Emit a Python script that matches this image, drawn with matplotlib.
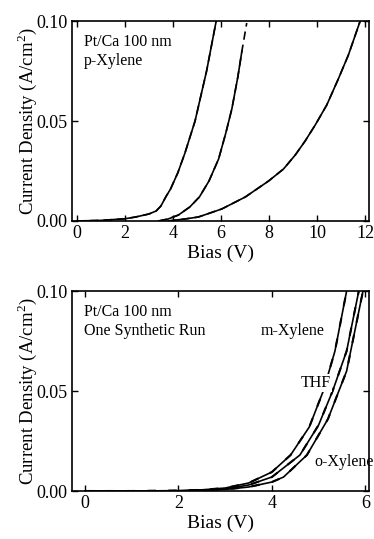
import matplotlib
matplotlib.use("Agg")
import matplotlib.pyplot as plt

plt.rcParams.update({"font.family": ["Liberation Serif", "DejaVu Serif"],
                     "mathtext.fontset": "custom",
                     "mathtext.rm": "Liberation Serif"})

# ---- top panel: Pt/Ca 100 nm, p-Xylene (three devices, solid + dashed scans)
TOP_A_X = [0, 1.0, 2.0, 2.45, 3.0, 3.3, 3.5, 3.7, 3.9, 4.2, 4.5, 4.92, 5.4, 5.8]
TOP_A_Y = [0, 0.0003, 0.0011, 0.002, 0.0035, 0.005, 0.0075, 0.012, 0.016, 0.024,
           0.034, 0.05, 0.075, 0.1]
TOP_B_X = [3.4, 3.8, 4.23, 4.7, 5.1, 5.5, 5.9, 6.2, 6.45, 6.7, 6.87]
TOP_B_Y = [0.0, 0.001, 0.003, 0.007, 0.012, 0.02, 0.031, 0.044, 0.056, 0.072, 0.085]
TOP_B_DASH_X = [3.4, 3.8, 4.23, 4.7, 5.1, 5.5, 5.9, 6.2, 6.45, 6.7, 6.87, 7.07]
TOP_B_DASH_Y = [0.0, 0.001, 0.003, 0.007, 0.012, 0.02, 0.031, 0.044, 0.056, 0.072,
                0.085, 0.099]
TOP_C_X = [3.8, 4.5, 5.06, 6.03, 7.01, 7.98, 8.6, 9.09, 9.5, 9.92, 10.4, 10.88,
           11.3, 11.79]
TOP_C_Y = [0.0, 0.001, 0.002, 0.006, 0.012, 0.020, 0.026, 0.033, 0.040, 0.048,
           0.058, 0.071, 0.083, 0.1]

# ---- bottom panel: Pt/Ca 100 nm, one synthetic run, three solvents
M_X = [0, 1.0, 2.0, 2.5, 3.0, 3.5, 4.0, 4.4, 4.8, 5.1, 5.35, 5.6]
M_Y = [0, 0, 0.0002, 0.0006, 0.0015, 0.004, 0.0095, 0.018, 0.032, 0.05, 0.07, 0.1]
THF_X = [0, 1.0, 2.0, 2.5, 3.0, 3.5, 4.0, 4.6, 5.0, 5.3, 5.6, 5.86]
THF_Y = [0, 0, 0.0001, 0.0004, 0.001, 0.003, 0.007, 0.018, 0.033, 0.05, 0.07, 0.1]
O_X = [0, 1.0, 2.0, 2.5, 3.0, 3.5, 4.0, 4.25, 4.75, 5.2, 5.6, 5.95]
O_Y = [0, 0, 0, 0.0003, 0.0008, 0.002, 0.0045, 0.007, 0.018, 0.036, 0.06, 0.1]
LABELS = ["m-Xylene", "THF", "o-Xylene"]
LABEL_X = [4.45, 4.95, 5.55]
LABEL_Y = [0.080, 0.054, 0.0143]

fig = plt.figure(figsize=(3.74, 5.39), dpi=100)
ax1 = fig.add_axes([0.1925, 0.590, 0.793, 0.371])
ax2 = fig.add_axes([0.1925, 0.089, 0.793, 0.371])

lw = 1.2
for x, y in [(TOP_A_X, TOP_A_Y), (TOP_B_X, TOP_B_Y), (TOP_C_X, TOP_C_Y)]:
    ax1.plot(x, y, color="black", lw=lw)
for x, y in [(TOP_A_X, TOP_A_Y), (TOP_B_DASH_X, TOP_B_DASH_Y), (TOP_C_X, TOP_C_Y)]:
    ax1.plot(x, y, color="black", lw=lw, ls=(0, (5, 3)))

for x, y in [(M_X, M_Y), (THF_X, THF_Y), (O_X, O_Y)]:
    ax2.plot(x, y, color="black", lw=lw)
    ax2.plot(x, y, color="black", lw=lw + 0.3, ls=(0, (4, 6)))
for lab, lx, ly in zip(LABELS, LABEL_X, LABEL_Y):
    ax2.text(lx, ly, lab, fontsize=11.5, ha="center", va="center",
             bbox=dict(fc="white", ec="none", pad=0.5) if lab == "THF" else None)

ax1.set_xlim(-0.2, 12.14)
ax1.set_xticks([0, 2, 4, 6, 8, 10, 12])
ax2.set_xlim(-0.28, 6.07)
ax2.set_xticks([0, 2, 4, 6])

ax1.text(0.04, 0.935, "Pt/Ca 100 nm\np-Xylene", transform=ax1.transAxes,
         fontsize=11.5, va="top", linespacing=1.25)
ax2.text(0.04, 0.935, "Pt/Ca 100 nm\nOne Synthetic Run", transform=ax2.transAxes,
         fontsize=11.5, va="top", linespacing=1.25)

for ax in (ax1, ax2):
    ax.set_ylim(0, 0.1)
    ax.set_yticks([0, 0.05, 0.1])
    ax.set_yticklabels(["0.00", "0.05", "0.10"])
    ax.set_xlabel("Bias (V)", fontsize=14, labelpad=2)
    ax.set_ylabel("Current Density (A/cm$^2$)", fontsize=13.5, labelpad=-2)
    ax.tick_params(direction="in", top=True, right=True, length=4,
                   width=1, labelsize=13, pad=3)
    for s in ax.spines.values():
        s.set_linewidth(1.2)

fig.savefig("out.png", dpi=100)
